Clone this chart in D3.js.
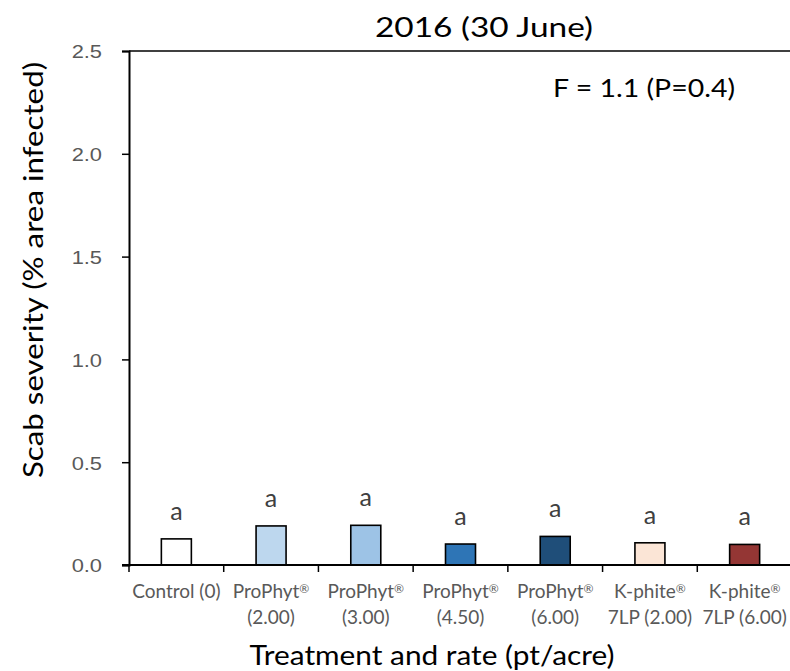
<!DOCTYPE html>
<html>
<head>
<meta charset="utf-8">
<script src="https://cdn.jsdelivr.net/npm/d3@7"></script>
<style>
  html, body { margin: 0; padding: 0; background: #fff; }
  svg { display: block; font-family: Lato, "Open Sans", sans-serif; }
</style>
</head>
<body>
<svg id="chart" width="790" height="671"></svg>
<script>
// Treatments (two-line tick labels) and mean scab severity
const treatmentsLine1 = ["Control (0)", "ProPhyt®", "ProPhyt®", "ProPhyt®", "ProPhyt®", "K-phite®", "K-phite®"];
const treatmentsLine2 = ["", "(2.00)", "(3.00)", "(4.50)", "(6.00)", "7LP (2.00)", "7LP (6.00)"];
const severity = [0.127, 0.19, 0.193, 0.102, 0.139, 0.108, 0.100];
const letters = ["a", "a", "a", "a", "a", "a", "a"];
const fills = ["#ffffff", "#bdd7ee", "#9dc3e6", "#2e75b6", "#1f4e79", "#fbe5d6", "#943634"];
const yTicks = [0, 0.5, 1.0, 1.5, 2.0, 2.5];

const svg = d3.select("#chart");
const W = 790, H = 671;
const margin = { left: 129, right: -2, top: 51, bottom: 106 };
const x = d3.scaleBand().domain(d3.range(severity.length)).range([margin.left, W - margin.right]);
const y = d3.scaleLinear().domain([0, 2.5]).range([H - margin.bottom, margin.top]);

// Widen glyphs horizontally by factor k (text keeps its anchor)
function widen(sel, k) {
  sel.each(function () {
    const len = this.getComputedTextLength();
    d3.select(this).attr("textLength", len * k).attr("lengthAdjust", "spacingAndGlyphs");
  });
}

// Top border line
svg.append("line")
  .attr("x1", margin.left).attr("x2", W)
  .attr("y1", y(2.5)).attr("y2", y(2.5))
  .attr("stroke", "#000").attr("stroke-width", 1.5);

// Y axis
const yAxis = svg.append("g")
  .attr("transform", `translate(${margin.left},0)`)
  .call(d3.axisLeft(y).tickValues(yTicks).tickFormat(d3.format(".1f")).tickSizeOuter(0).tickSize(7).tickPadding(20));
yAxis.select(".domain").attr("stroke", "#000").attr("stroke-width", 2);
yAxis.selectAll(".tick line").attr("stroke", "#000").attr("stroke-width", 1.5);
yAxis.selectAll(".tick text")
  .attr("fill", "#595959").attr("dy", "0.36em")
  .style("font-size", "19px")
  .call(widen, 1.15);

// Bars
const bw = 30;
svg.append("g").selectAll("rect").data(severity).join("rect")
  .attr("x", (d, i) => x(i) + x.bandwidth() / 2 - bw / 2)
  .attr("y", d => y(d))
  .attr("width", bw)
  .attr("height", d => y(0) - y(d))
  .attr("fill", (d, i) => fills[i])
  .attr("stroke", "#000").attr("stroke-width", 1.6);

// Significance letters
svg.append("g").selectAll("text").data(severity).join("text")
  .attr("x", (d, i) => x(i) + x.bandwidth() / 2)
  .attr("y", d => y(d) - 19)
  .attr("text-anchor", "middle")
  .attr("fill", "#404040")
  .style("font-size", "25px")
  .text((d, i) => letters[i]);

// X axis with ticks at band boundaries
const xg = svg.append("g");
xg.append("line")
  .attr("x1", margin.left - 7).attr("x2", W)
  .attr("y1", y(0)).attr("y2", y(0))
  .attr("stroke", "#000").attr("stroke-width", 2);
xg.selectAll("line.tk").data(d3.range(severity.length)).join("line")
  .attr("class", "tk")
  .attr("x1", i => x(i)).attr("x2", i => x(i))
  .attr("y1", y(0)).attr("y2", y(0) + 7)
  .attr("stroke", "#000").attr("stroke-width", 1.5);

// Tick label lines; the ® mark is drawn small and raised
function labelLine(sel, text, baseY) {
  sel.each(function (i) {
    const t = d3.select(this).append("text")
      .attr("x", x(i) + x.bandwidth() / 2).attr("y", baseY)
      .attr("text-anchor", "middle").attr("fill", "#595959")
      .style("font-size", "19px");
    const parts = text[i].split("®");
    t.append("tspan").text(parts[0]);
    if (parts.length > 1) {
      t.append("tspan").attr("dy", "-0.45em").style("font-size", "12px").text("®");
    }
  });
}
const lblG = xg.selectAll("g.lb").data(d3.range(severity.length)).join("g").attr("class", "lb");
labelLine(lblG, treatmentsLine1, 598);
labelLine(lblG, treatmentsLine2, 624);

// Axis titles
svg.append("text")
  .attr("x", 432).attr("y", 665)
  .attr("text-anchor", "middle").attr("fill", "#000")
  .style("font-size", "26px")
  .attr("textLength", 365).attr("lengthAdjust", "spacingAndGlyphs")
  .text("Treatment and rate (pt/acre)");
svg.append("text")
  .attr("transform", "translate(43,270) rotate(-90)")
  .attr("text-anchor", "middle").attr("fill", "#000")
  .style("font-size", "26px")
  .attr("textLength", 416).attr("lengthAdjust", "spacingAndGlyphs")
  .text("Scab severity (% area infected)");

// Chart title and F-statistic annotation
svg.append("text")
  .attr("x", 484).attr("y", 37)
  .attr("text-anchor", "middle").attr("fill", "#000")
  .style("font-size", "27px")
  .attr("textLength", 218).attr("lengthAdjust", "spacingAndGlyphs")
  .text("2016 (30 June)");
svg.append("text")
  .attr("x", 553).attr("y", 97)
  .attr("fill", "#000")
  .style("font-size", "25px")
  .attr("textLength", 182).attr("lengthAdjust", "spacingAndGlyphs")
  .text("F = 1.1 (P=0.4)");
</script>
</body>
</html>
